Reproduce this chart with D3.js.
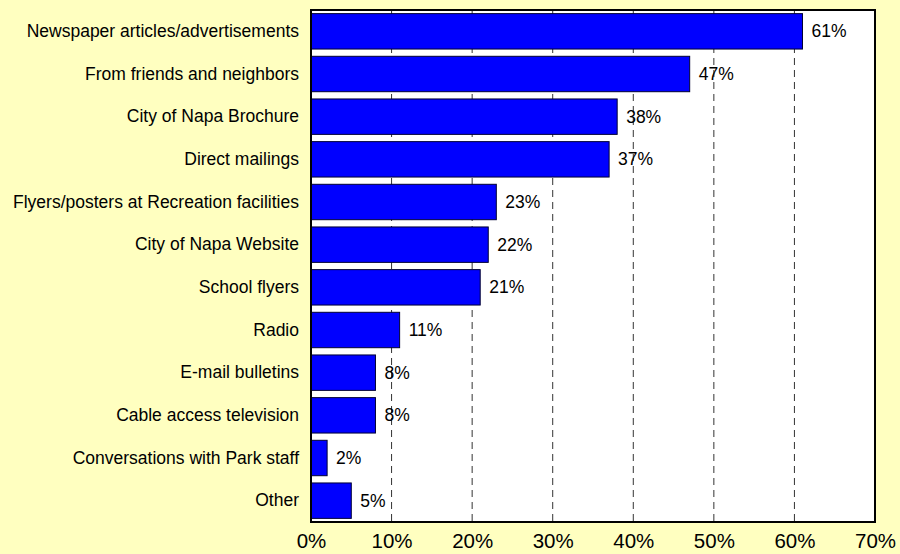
<!DOCTYPE html>
<html>
<head>
<meta charset="utf-8">
<script src="https://cdn.jsdelivr.net/npm/d3@7"></script>
<style>
  html, body { margin: 0; padding: 0; background: #FFFFC0; }
  svg { display: block; }
  text { font-family: "Liberation Sans", Arial, sans-serif; fill: #000; }
</style>
</head>
<body>
<svg id="chart" width="900" height="554"></svg>
<script>
// How respondents hear about programs (percent of respondents)
const categories = [
  "Newspaper articles/advertisements",
  "From friends and neighbors",
  "City of Napa Brochure",
  "Direct mailings",
  "Flyers/posters at Recreation facilities",
  "City of Napa Website",
  "School flyers",
  "Radio",
  "E-mail bulletins",
  "Cable access television",
  "Conversations with Park staff",
  "Other"
];
const values = [61, 47, 38, 37, 23, 22, 21, 11, 8, 8, 2, 5];
const tickValues = [0, 10, 20, 30, 40, 50, 60, 70];

const svg = d3.select("#chart");
const margin = { left: 311, right: 25, top: 10, bottom: 32 };
const W = 900, H = 554;
const innerW = W - margin.left - margin.right;
const innerH = H - margin.top - margin.bottom;

const x = d3.scaleLinear().domain([0, 70]).range([0, innerW]);
const y = d3.scaleBand().domain(categories).range([0, innerH]).paddingInner(0.17).paddingOuter(0.085);

const g = svg.append("g").attr("transform", `translate(${margin.left},${margin.top})`);

// plot background
g.append("rect").attr("x", 0).attr("y", 0).attr("width", innerW).attr("height", innerH).attr("fill", "#fff");

// dashed vertical gridlines
g.append("g").selectAll("line")
  .data(tickValues.filter(t => t > 0 && t < 70))
  .join("line")
  .attr("x1", d => x(d)).attr("x2", d => x(d))
  .attr("y1", 0).attr("y2", innerH)
  .attr("stroke", "#333").attr("stroke-width", 1)
  .attr("stroke-dasharray", "7,5");

// bars
g.append("g").selectAll("rect")
  .data(categories)
  .join("rect")
  .attr("x", 0)
  .attr("y", d => y(d))
  .attr("width", (d, i) => x(values[i]))
  .attr("height", y.bandwidth())
  .attr("fill", "#0000FF")
  .attr("stroke", "#000033").attr("stroke-width", 1);

// value labels
g.append("g").selectAll("text")
  .data(categories)
  .join("text")
  .attr("x", (d, i) => x(values[i]) + 9)
  .attr("y", d => y(d) + y.bandwidth() / 2)
  .attr("dy", "0.35em")
  .style("font-size", "17.5px")
  .text((d, i) => values[i] + "%");

// frame
g.append("rect").attr("x", 0).attr("y", 0).attr("width", innerW).attr("height", innerH)
  .attr("fill", "none").attr("stroke", "#000").attr("stroke-width", 2);

// category axis
const yAxis = g.append("g").call(d3.axisLeft(y).tickSize(0).tickPadding(12));
yAxis.select(".domain").remove();
yAxis.selectAll("text").style("font-size", "17.5px").style("font-family", "'Liberation Sans', Arial, sans-serif");

// percent axis
const xAxis = g.append("g").attr("transform", `translate(0,${innerH})`)
  .call(d3.axisBottom(x).tickValues(tickValues).tickSize(0).tickPadding(11).tickFormat(d => d + "%"));
xAxis.select(".domain").remove();
xAxis.selectAll("text").style("font-size", "20.5px").style("font-family", "'Liberation Sans', Arial, sans-serif");
</script>
</body>
</html>
